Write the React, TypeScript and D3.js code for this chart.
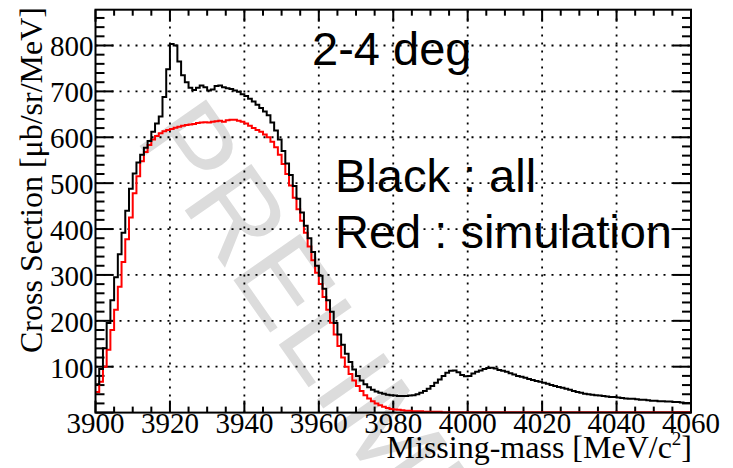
import React, { useEffect } from 'react';
import * as d3 from 'd3';

const W = 733;
const H = 468;

// Missing-mass histogram, 1 MeV bins starting at 3900 MeV/c^2
const binStart = 3900;
const binWidth = 1;

// Black : all
const allCounts = [
  62, 95, 140, 195, 245, 295, 345, 392, 440, 488,
  521, 545, 562, 577, 592, 612, 630, 645, 688, 748,
  803, 800, 765, 735, 720, 708, 703, 708, 713, 709,
  702, 704, 712, 713, 709, 707, 705, 702, 699, 694,
  690, 684, 678, 671, 664, 656, 648, 632, 615, 595,
  570, 543, 518, 494, 466, 436, 407, 380, 350, 320,
  298, 270, 245, 220, 195, 170, 148, 128, 110, 94,
  80, 70, 62, 55, 50, 46, 43, 41, 39, 38,
  37, 36, 36, 36, 37, 38, 40, 43, 47, 52,
  58, 65, 72, 80, 87, 91, 92, 88, 82, 79,
  80, 85, 89, 92, 95, 97, 98, 96, 93, 91,
  89, 86, 83, 80, 78, 76, 73, 71, 69, 67,
  65, 63, 60, 58, 56, 54, 52, 50, 47, 45,
  43, 41, 40, 39, 38, 37, 36, 35, 34, 34,
  33, 32, 31, 30, 30, 29, 28, 28, 27, 26,
  26, 25, 25, 24, 24, 23, 23, 22, 21, 21,
];

// Red : simulation
const simCounts = [
  45, 67, 100, 137, 180, 224, 274, 328, 378, 425,
  478, 515, 548, 568, 583, 595, 603, 609, 613, 616,
  618, 621, 623, 625, 627, 628, 629, 631, 632, 633,
  632, 634, 635, 636, 634, 637, 638, 638, 636, 634,
  630, 625, 620, 616, 612, 606, 600, 590, 578, 562,
  542, 520, 495, 468, 443, 418, 392, 362, 332, 305,
  280, 252, 224, 196, 170, 145, 120, 100, 84, 70,
  58, 47, 38, 31, 25, 20, 16, 13, 10, 8,
  7, 6, 5, 4, 4, 3, 3, 3, 2, 2,
  2, 2, 2, 1, 1, 1, 1, 1, 1, 1,
  1, 1, 1, 1, 1, 1, 1, 1, 1, 1,
  1, 1, 1, 1, 1, 1, 1, 1, 1, 1,
  1, 1, 1, 1, 1, 1, 1, 1, 1, 1,
  1, 1, 1, 1, 1, 1, 1, 1, 1, 1,
  1, 1, 1, 1, 1, 1, 1, 1, 1, 1,
  1, 1, 1, 1, 1, 1, 1, 1, 1, 1,
];

const xTicks = [3900, 3920, 3940, 3960, 3980, 4000, 4020, 4040, 4060];
const yTicks = [100, 200, 300, 400, 500, 600, 700, 800];
const xDomain = [3900, 4060];
const yDomain = [0, 878];

const serif = '"Liberation Serif", "Times New Roman", serif';
const sans = '"Liberation Sans", Arial, sans-serif';

export default function App() {
  useEffect(() => {
    document.body.style.margin = '0';
  }, []);

  const L = 95.5, R = 691, T = 9.7, B = 412.6;
  const x = d3.scaleLinear().domain(xDomain).range([L, R]);
  const y = d3.scaleLinear().domain(yDomain).range([B, T]);

  const stepPath = (vals: number[]) => {
    const pts: [number, number][] = vals.map((v, i) => [x(binStart + i * binWidth), y(v)]);
    pts.push([x(binStart + vals.length * binWidth), y(vals[vals.length - 1])]);
    return d3.line().curve(d3.curveStepAfter)(pts) || '';
  };

  const xMinor = d3.range(xDomain[0], xDomain[1] + 0.001, 5);
  const yMinor = d3.range(0, yDomain[1], 20);

  return (
    <svg width={W} height={H} style={{ position: 'absolute', left: 0, top: 0, background: '#fff' }}>
      <rect x={0} y={0} width={W} height={H} fill="#fff" />
      {/* watermark */}
      <text
        transform="translate(134,138) rotate(55)"
        fontFamily={sans}
        fontSize={118}
        fill="#dcdcdc"
      >
        PRELIMINARY
      </text>
      {/* grid */}
      <g stroke="#000" strokeWidth={1.8} strokeDasharray="2 6">
        {xTicks.slice(1, -1).map((t) => (
          <line key={'gx' + t} x1={x(t)} x2={x(t)} y1={B} y2={T} />
        ))}
        {yTicks.map((t) => (
          <line key={'gy' + t} x1={L} x2={R} y1={y(t)} y2={y(t)} />
        ))}
      </g>
      {/* ticks */}
      <g stroke="#000" strokeWidth={2}>
        {xMinor.map((t) => {
          const major = xTicks.includes(t);
          const len = major ? 12 : 6;
          return (
            <g key={'xt' + t}>
              <line x1={x(t)} x2={x(t)} y1={B} y2={B - len} />
              <line x1={x(t)} x2={x(t)} y1={T} y2={T + len} />
            </g>
          );
        })}
        {yMinor.map((t) => {
          const major = t % 100 === 0;
          const len = major ? 18 : 9;
          return (
            <g key={'yt' + t}>
              <line x1={L} x2={L + len} y1={y(t)} y2={y(t)} />
              <line x1={R} x2={R - len} y1={y(t)} y2={y(t)} />
            </g>
          );
        })}
      </g>
      {/* histograms */}
      <path d={stepPath(simCounts)} fill="none" stroke="#ff0000" strokeWidth={2} />
      <path d={stepPath(allCounts)} fill="none" stroke="#000" strokeWidth={2} />
      {/* frame */}
      <rect x={L} y={T} width={R - L} height={B - T} fill="none" stroke="#000" strokeWidth={2} />
      {/* tick labels */}
      <g fontFamily={serif} fontSize={29} fill="#000">
        {xTicks.map((t) => (
          <text key={'xl' + t} x={x(t)} y={433} textAnchor="middle">
            {t}
          </text>
        ))}
        {yTicks.map((t) => (
          <text key={'yl' + t} x={93.5} y={y(t) + 11} textAnchor="end">
            {t}
          </text>
        ))}
      </g>
      {/* axis titles */}
      <text
        transform="translate(42,353) rotate(-90)"
        fontFamily={serif}
        fontSize={32}
        fill="#000"
      >
        Cross Section [μb/sr/MeV]
      </text>
      <text x={692} y={458} textAnchor="end" fontFamily={serif} fontSize={32} fill="#000">
        Missing-mass [MeV/c
        <tspan fontSize={19} dy={-13}>2</tspan>
        <tspan dy={13}>]</tspan>
      </text>
      {/* annotations */}
      <g fontFamily={sans} fill="#000">
        <text x={312} y={65} fontSize={47}>2-4 deg</text>
        <text x={335} y={192} fontSize={47}>Black : all</text>
        <text x={335} y={248} fontSize={47}>Red : simulation</text>
      </g>
    </svg>
  );
}
